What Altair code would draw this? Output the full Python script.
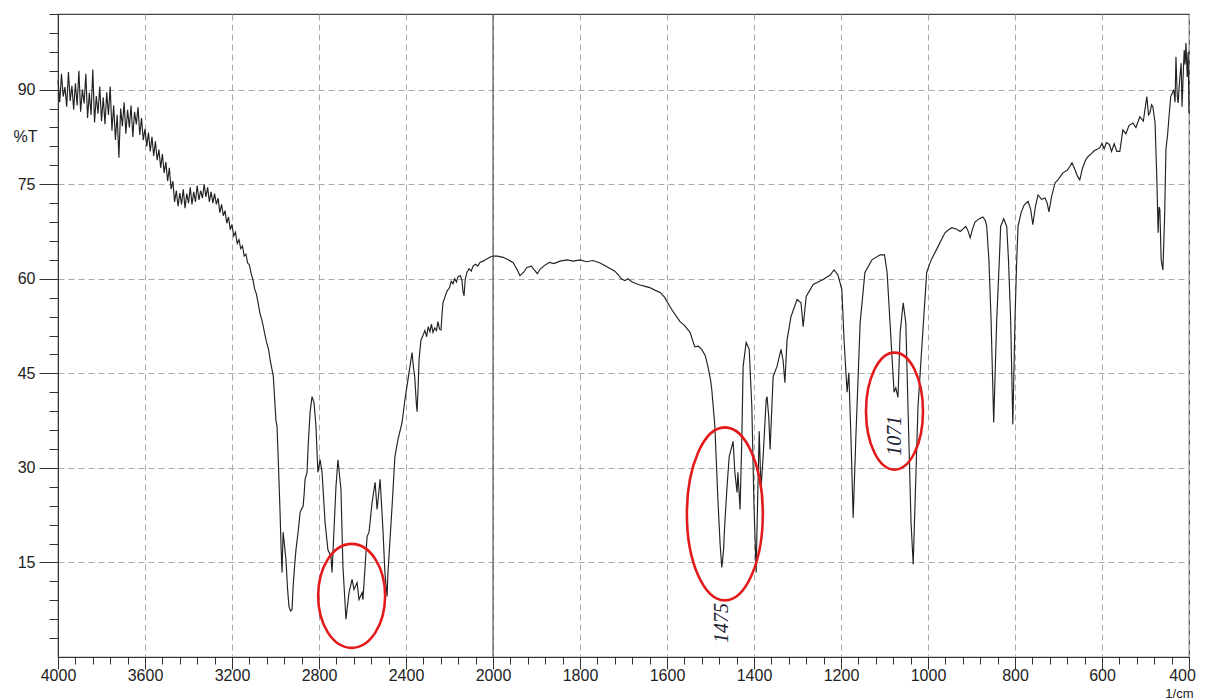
import altair as alt
import pandas as pd

# ---------------- spectrum (wavenumber in 1/cm, transmittance in %T) ----------------
WAVENUMBER = [
    4000, 3992, 3984, 3976, 3968, 3960, 3952, 3944, 3936, 3928, 3920, 3912, 3904, 3896, 3888,
    3880, 3872, 3864, 3856, 3848, 3840, 3832, 3824, 3816, 3808, 3800, 3792, 3784, 3776, 3768,
    3760, 3752, 3744, 3736, 3728, 3720, 3712, 3704, 3696, 3688, 3680, 3672, 3664, 3656, 3648,
    3640, 3632, 3624, 3616, 3608,
    3600, 3592, 3584, 3576, 3568, 3560, 3552, 3544, 3536, 3528, 3520, 3512, 3504, 3496, 3488,
    3480, 3472, 3464, 3456, 3448, 3440, 3432, 3424, 3416, 3408, 3400, 3392, 3384, 3376, 3368,
    3360, 3352, 3344, 3336, 3328, 3320, 3312, 3304, 3296, 3288, 3280, 3272, 3264, 3256, 3248,
    3240, 3232, 3224, 3216, 3208, 3200, 3192, 3184, 3176, 3168, 3160, 3152, 3144, 3136, 3128,
    3120, 3112, 3104, 3096, 3088, 3080, 3072, 3064, 3056, 3048, 3040, 3032, 3024, 3016, 3010,
    3004, 2998, 2993, 2988, 2980, 2974, 2970, 2965, 2958, 2952, 2945, 2938, 2931, 2924, 2919,
    2912, 2906, 2896, 2887, 2880, 2873, 2868, 2864, 2855, 2850, 2841, 2832, 2823, 2814, 2805,
    2795, 2786, 2772, 2759, 2745, 2740, 2731, 2722, 2713, 2699, 2690, 2676, 2662, 2648, 2639,
    2625, 2616, 2602, 2598, 2588, 2579, 2570, 2556, 2542, 2533, 2519, 2506, 2497, 2487, 2483,
    2464, 2451, 2437, 2418, 2405, 2391,
    2380, 2372, 2366, 2360, 2352, 2349, 2344, 2340, 2335, 2331, 2322, 2313, 2305, 2298, 2290,
    2283, 2276, 2268, 2260, 2253, 2246, 2239, 2234, 2230, 2222, 2212, 2200, 2192, 2184, 2176,
    2168, 2161, 2150, 2143, 2138, 2133, 2128, 2120, 2110, 2100, 2092, 2080, 2070, 2060, 2046,
    2035, 2020, 2010, 2000,
    1990, 1977, 1965, 1954, 1945, 1938, 1930, 1922, 1912, 1905, 1898, 1892, 1880, 1870, 1860,
    1846, 1830, 1815, 1800, 1785, 1770, 1754, 1740, 1730, 1720, 1712, 1705, 1697, 1690, 1680,
    1670, 1662, 1650, 1640, 1628, 1615, 1605, 1595, 1588, 1580, 1570,
    1560, 1547, 1540, 1536, 1528, 1520, 1512, 1506, 1500, 1497, 1490, 1483, 1478, 1474, 1470,
    1467, 1462, 1457, 1448, 1444, 1439, 1437, 1432, 1428, 1425, 1418, 1411, 1405, 1400, 1395,
    1393, 1388, 1384, 1379, 1372, 1370, 1366, 1363, 1356, 1347, 1338, 1333, 1329, 1324, 1315,
    1301, 1292, 1287, 1280, 1264, 1241, 1225, 1216, 1207, 1198, 1193, 1186, 1182, 1177, 1172,
    1166, 1156, 1145, 1129, 1110,
    1100, 1094, 1085, 1078, 1074, 1069, 1064, 1057, 1051, 1046, 1039, 1034, 1030, 1023, 1012,
    1003, 996, 991,
    977, 961, 952, 945, 935, 926, 918, 913, 908, 903, 898, 892, 883, 874, 868,
    865, 860, 855, 849, 842, 836, 833, 826, 819, 815, 810, 805, 800, 796, 793,
    786, 779, 770, 764, 759, 753, 747, 739, 731, 726, 722, 716, 708, 700, 690,
    680, 674, 669, 662, 656, 651, 645, 638, 632, 625, 618, 610, 605, 600, 595,
    590, 583, 578, 572, 566, 559, 552, 545, 538, 529, 522, 513, 505, 497, 493,
    490, 486, 483, 478, 474, 471, 469, 467, 464, 460, 456, 453, 449, 446, 442,
    438, 435, 432, 430, 427, 425, 421, 418, 416, 413, 411, 409, 407, 404, 402,
    400,
]

TRANSMITTANCE = [
    91.5, 88.0, 92.5, 88.9, 90.4, 87.3, 92.8, 88.2, 90.6, 86.8, 91.0, 87.5, 93.0, 86.5, 90.0,
    87.8, 92.5, 85.5, 89.5, 86.0, 93.2, 84.8, 89.0, 86.2, 90.5, 85.0, 88.8, 84.5, 89.6, 86.0,
    90.5, 83.5, 87.5, 82.0, 86.0, 79.2, 87.0, 84.2, 88.0, 83.0, 86.8, 84.0, 87.5, 82.5, 86.5,
    84.5, 87.2, 82.8, 85.5, 82.0,
    83.8, 81.0, 83.2, 80.2, 82.5, 79.5, 81.8, 78.8, 80.5, 77.6, 79.8, 76.8, 78.5, 75.5, 77.6,
    74.2, 75.5, 72.2, 74.0, 71.5, 73.6, 71.8, 74.2, 71.2, 73.5, 72.0, 74.5, 71.8, 73.8, 72.2,
    74.8, 72.5, 74.0, 72.8, 75.0, 73.0, 74.5, 72.2, 73.8, 72.0, 73.5, 71.8, 72.8, 70.5, 71.8,
    70.0, 70.8, 68.8, 69.8, 67.8, 68.6, 66.8, 67.4, 65.6, 66.2, 64.8, 65.2, 63.6, 63.9, 62.5,
    62.2, 60.8, 59.9, 58.4, 57.6, 56.2, 54.6, 53.6, 52.4, 51.0, 49.8, 48.8, 47.0, 45.6, 44.5,
    41.0, 37.5, 36.6, 32.0, 24.0, 17.0, 13.4, 19.8, 17.5, 15.5, 11.0, 8.0, 7.3, 7.5, 11.2,
    14.5, 17.0, 19.8, 22.9, 23.5, 23.9, 26.0, 28.2, 29.3, 33.4, 38.8, 41.3, 40.4, 36.6, 29.3,
    31.3, 29.3, 21.3, 17.0, 16.0, 13.4, 20.2, 27.0, 31.3, 26.6, 14.4, 6.0, 10.2, 12.3, 10.7,
    11.8, 9.1, 10.2, 9.1, 14.4, 19.1, 19.8, 24.5, 27.7, 23.4, 28.2, 20.2, 13.4, 9.6, 13.4,
    23.9, 31.8, 34.5, 37.2, 40.8, 44.0,
    46.5, 48.3, 46.0, 44.5, 40.0, 38.9, 43.0, 47.2, 49.0, 50.3, 51.0, 51.8, 50.8, 52.4, 51.6,
    52.8, 51.5, 52.2, 51.8, 53.2, 52.0, 51.9, 54.5, 56.2, 57.0, 58.0, 58.6, 59.6, 59.2, 60.0,
    59.5, 60.3, 60.5, 59.8, 58.0, 57.3, 59.8, 61.0, 61.6, 61.2, 62.0, 62.3, 62.0, 62.6, 62.8,
    63.0, 63.3, 63.5, 63.6,
    63.6, 63.4, 63.0, 62.6, 61.5, 60.5, 61.0, 61.8, 62.0, 61.4, 60.8, 61.5, 62.2, 62.6, 62.4,
    62.8, 63.0, 62.8, 63.0, 62.7, 62.9, 62.5, 62.0, 61.6, 61.2, 60.6, 60.0, 59.7, 60.0, 59.5,
    59.2, 59.0, 58.8, 58.6, 58.2, 57.8, 57.0, 55.8, 55.0, 54.2, 53.2,
    52.6, 51.5, 50.0, 49.2, 49.3, 48.8, 47.8, 46.1, 44.0, 42.4, 36.6, 25.0, 18.0, 14.2, 17.0,
    21.3, 27.0, 31.8, 34.2, 29.3, 26.1, 29.3, 23.4, 34.5, 46.1, 49.9, 48.8, 39.7, 23.9, 13.4,
    20.7, 35.8, 26.6, 31.8, 40.8, 41.3, 38.0, 32.9, 44.5, 46.1, 48.8, 47.0, 43.5, 50.3, 54.0,
    56.7, 56.2, 52.4, 57.2, 59.1, 59.9, 60.6, 61.4, 60.6, 58.3, 50.3, 42.0, 45.1, 34.5, 22.1,
    34.5, 53.0, 61.0, 63.0, 63.8,
    63.8, 61.0, 50.3, 42.0, 42.7, 41.2, 51.5, 56.2, 53.0, 39.7, 21.3, 14.7, 23.9, 39.7, 51.5,
    61.0, 62.4, 63.2,
    65.1, 67.3, 67.8, 68.1, 67.9, 67.5, 68.0, 68.3, 67.6, 66.5, 67.8, 69.0, 69.5, 69.8, 69.2,
    68.3, 63.0, 53.5, 37.2, 53.5, 63.0, 68.3, 69.5, 68.3, 63.0, 53.5, 36.9, 53.5, 63.0, 68.3,
    70.5, 71.7, 72.3, 71.0, 68.6, 71.5, 73.3, 72.6, 72.8, 72.0, 70.6, 73.0, 75.2, 75.8, 76.8,
    77.2, 77.8, 78.4, 77.3, 76.2, 75.7, 77.5, 78.8, 79.4, 79.8, 80.3, 80.6, 80.8, 81.5, 80.6,
    81.6, 81.3, 80.2, 81.4, 80.2, 80.2, 83.6, 83.0, 84.3, 84.7, 84.0, 85.7, 85.0, 88.9, 86.0,
    86.3, 87.6, 87.3, 84.7, 76.0, 67.3, 71.4, 71.0, 63.0, 61.4, 70.0, 80.5, 83.0, 85.7, 88.9,
    89.5, 90.0, 88.0, 95.2, 89.0, 87.9, 92.0, 94.2, 87.3, 93.0, 96.3, 94.0, 97.4, 92.0, 96.0,
    86.3,
]

# axis ticks
X_MAJOR = [4000, 3600, 3200, 2800, 2400, 2000, 1800, 1600, 1400, 1200, 1000, 800, 600, 400]
X_MINOR = [v for v in list(range(4000, 2000, -80)) + list(range(2000, 399, -40)) if v not in X_MAJOR]
Y_MAJOR = [15, 30, 45, 60, 75, 90]
Y_MINOR = [v for v in range(3, 103, 3) if v % 15 != 0]

# annotations
ANN_TEXT = ["1475", "1071"]
ANN_WN = [1473, 1076]
ANN_T = [5.4, 35.1]

ELLIPSE_WN = [2650, 1467, 1077]
ELLIPSE_T = [9.7, 22.7, 39.0]

W, H = 1131, 643
FONT = "Liberation Sans"
TXT = "#222222"
RED = "#e31a1c"

df = pd.DataFrame({"wn": WAVENUMBER, "t": TRANSMITTANCE})

xscale = alt.Scale(domain=[4000, 2000, 400], range=[0, 435, W], nice=False, zero=False)
yscale = alt.Scale(domain=[0, 102], nice=False, zero=False)

grid_kw = dict(grid=True, gridDash=[6, 4], gridColor="#a9a9a9", gridWidth=1)

main_x_axis = alt.Axis(
    values=X_MAJOR, format="d", orient="bottom", tickSize=12, tickColor="#333333",
    domainColor="#333333", labelFont=FONT, labelFontSize=16, labelColor=TXT,
    labelPadding=-2, labelFlush=False,
    labelOffset=alt.ExprRef(expr="datum.value == 400 ? -7 : 0"),
    title="1/cm", titleFont=FONT, titleFontSize=13, titleFontWeight="normal",
    titleColor=TXT, titleX=W + 4, titleY=36, titleAlign="right", titleBaseline="middle",
    titleAngle=0, **grid_kw,
)
main_y_axis = alt.Axis(
    values=Y_MAJOR, orient="left", tickSize=19, tickColor="#333333", domainColor="#333333",
    labelFont=FONT, labelFontSize=16, labelColor=TXT, labelPadding=4, labelFlush=False,
    title="%T", titleFont=FONT, titleFontSize=16, titleFontWeight="normal", titleColor=TXT,
    titleAngle=0, titleX=-21, titleY=(102 - 82.5) * H / 102, titleAlign="right",
    titleBaseline="middle", **grid_kw,
)

line = alt.Chart(df).mark_line(color="#222222", strokeWidth=1.15).encode(
    x=alt.X("wn:Q", scale=xscale, axis=main_x_axis),
    y=alt.Y("t:Q", scale=yscale, axis=main_y_axis),
)

minor = alt.Chart(df).mark_point(opacity=0).encode(
    x=alt.X("wn:Q", scale=xscale, axis=alt.Axis(
        values=X_MINOR, orient="bottom", tickSize=7, tickColor="#333333", labels=False,
        domain=False, grid=False, title=None)),
    y=alt.Y("t:Q", scale=yscale, axis=alt.Axis(
        values=Y_MINOR, orient="left", tickSize=9, tickColor="#333333", labels=False,
        domain=False, grid=False, title=None)),
)

rule2000 = alt.Chart(pd.DataFrame({"wn": [2000]})).mark_rule(
    color="#555555", strokeWidth=1.2
).encode(x=alt.X("wn:Q", scale=xscale, axis=None))


def ellipse_path(aspect):
    a = round(aspect, 3)
    return f"M {-a} 0 A {a} 1 0 1 1 {a} 0 A {a} 1 0 1 1 {-a} 0 Z"


ELLIPSE_STYLE = [(0.644, 104), (0.439, 173), (0.487, 117)]
ellipses = []
for i, (aspect, hgt) in enumerate(ELLIPSE_STYLE):
    ellipses.append(
        alt.Chart(pd.DataFrame({"wn": [ELLIPSE_WN[i]], "t": [ELLIPSE_T[i]]}))
        .mark_point(shape=ellipse_path(aspect), size=hgt * hgt, filled=False,
                    color=RED, strokeWidth=2.6, opacity=1)
        .encode(x=alt.X("wn:Q", scale=xscale, axis=None),
                y=alt.Y("t:Q", scale=yscale, axis=None))
    )

labels = alt.Chart(pd.DataFrame({"wn": ANN_WN, "t": ANN_T, "txt": ANN_TEXT})).mark_text(
    angle=270, font="Liberation Serif", fontStyle="italic", fontSize=20, color="#1b2030",
    align="center", baseline="middle",
).encode(
    x=alt.X("wn:Q", scale=xscale, axis=None),
    y=alt.Y("t:Q", scale=yscale, axis=None),
    text="txt:N",
)

chart = (
    alt.layer(line, minor, rule2000, *ellipses, labels)
    .resolve_axis(x="independent", y="independent")
    .properties(
        width=W, height=H,
        autosize=alt.AutoSizeParams(type="none"),
        padding={"left": 50, "top": 6, "right": 8, "bottom": 42},
        background="white",
    )
    .configure_view(stroke="#444444", strokeWidth=1.2)
)

chart.save("out.html", embed_options={"renderer": "svg", "actions": False})
